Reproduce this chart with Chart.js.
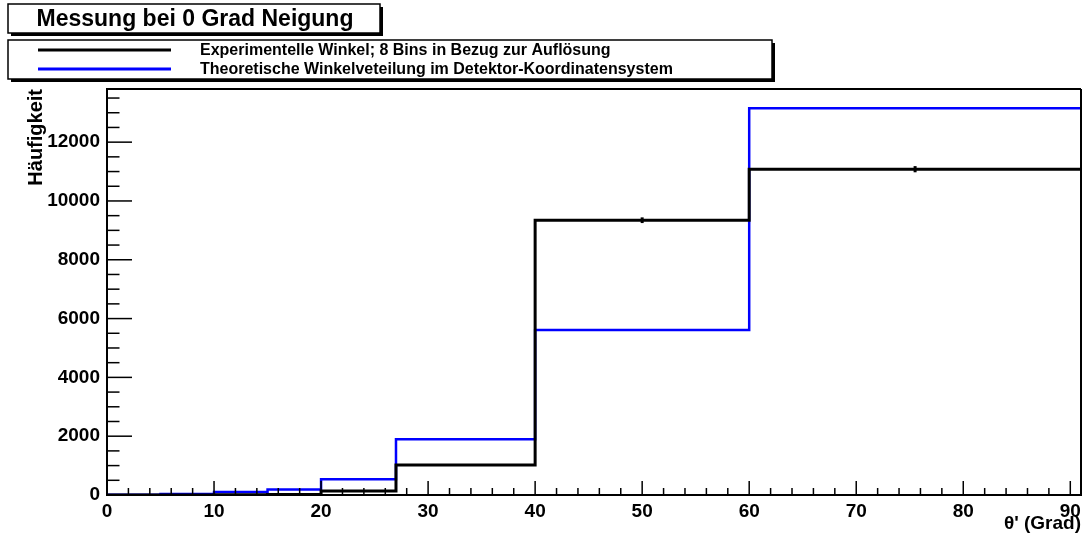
<!DOCTYPE html>
<html>
<head>
<meta charset="utf-8">
<title>Messung bei 0 Grad Neigung</title>
<script src="https://cdn.jsdelivr.net/npm/chart.js@4/dist/chart.umd.min.js"></script>
<style>
  html, body { margin: 0; padding: 0; background: #fff; }
  #wrap { position: relative; width: 1084px; height: 542px; }
</style>
</head>
<body>
<div id="wrap"><canvas id="canvas" width="1084" height="542"></canvas></div>
<script>
// Bin edges in degrees and counts per bin
const binEdges = [0, 5, 10, 15, 20, 27, 40, 60, 91];
const experimentell = [0, 2, 6, 18, 135, 1020, 9345, 11080];
const theoretisch = [5, 34, 100, 190, 535, 1893, 5608, 13150];

const xMajorTicks = [0, 10, 20, 30, 40, 50, 60, 70, 80, 90];
const yMajorTicks = [0, 2000, 4000, 6000, 8000, 10000, 12000];

const titleText = 'Messung bei 0 Grad Neigung';
const labelExp = 'Experimentelle Winkel; 8 Bins in Bezug zur Aufl\u00f6sung';
const labelTheo = 'Theoretische Winkelveteilung im Detektor-Koordinatensystem';

const FONT = '"Liberation Sans", Arial, Helvetica, sans-serif';
const yMax = 1.05 * Math.max(...theoretisch);

// histogram outline: one point per left edge, last bin repeated at the right edge
function steps(values) {
  return binEdges.map((x, i) => ({ x: x, y: values[Math.min(i, values.length - 1)] }));
}

function line(ctx, x1, y1, x2, y2) {
  ctx.beginPath();
  ctx.moveTo(x1, y1);
  ctx.lineTo(x2, y2);
  ctx.stroke();
}

function box(ctx, x, y, w, h) {
  ctx.fillStyle = '#000';
  ctx.fillRect(x + 3, y + 3, w, h);
  ctx.fillStyle = '#fff';
  ctx.fillRect(x, y, w, h);
  ctx.strokeStyle = '#000';
  ctx.lineWidth = 1.5;
  ctx.strokeRect(x, y, w, h);
}

// title box and legend box above the frame
const headerPlugin = {
  id: 'header',
  afterDraw(chart) {
    const ctx = chart.ctx;
    ctx.save();
    box(ctx, 8, 4, 372, 29);
    ctx.fillStyle = '#000';
    ctx.font = 'bold 23px ' + FONT;
    ctx.textAlign = 'center';
    ctx.textBaseline = 'middle';
    ctx.fillText(titleText, 195, 19.5);

    box(ctx, 8, 40, 764, 39);
    ctx.font = 'bold 16px ' + FONT;
    ctx.textAlign = 'left';
    chart.data.datasets.forEach((ds, i) => {
      const yy = 50 + i * 19;
      ctx.strokeStyle = ds.borderColor;
      ctx.lineWidth = 3;
      line(ctx, 38, yy, 171, yy);
      ctx.fillStyle = '#000';
      ctx.fillText(ds.label, 200, yy + 1);
    });
    ctx.restore();
  }
};

// inner tick marks, frame and the error bars of the measured histogram
const framePlugin = {
  id: 'frame',
  afterDatasetsDraw(chart) {
    const { ctx, chartArea: a, scales: { x, y } } = chart;
    ctx.save();
    ctx.strokeStyle = '#000';
    ctx.lineWidth = 1.5;
    x.ticks.forEach(t => {
      const px = x.getPixelForValue(t.value);
      const len = xMajorTicks.includes(t.value) ? 14 : 7;
      line(ctx, px, a.bottom, px, a.bottom - len);
    });
    y.ticks.forEach(t => {
      const py = y.getPixelForValue(t.value);
      const len = yMajorTicks.includes(t.value) ? 25 : 12.5;
      line(ctx, a.left, py, a.left + len, py);
    });
    ctx.lineWidth = 2;
    line(ctx, a.left, a.top, a.right, a.top);
    line(ctx, a.right, a.top, a.right, a.bottom);

    ctx.lineWidth = 3;
    experimentell.forEach((v, i) => {
      if (v <= 0) return;
      const cx = x.getPixelForValue((binEdges[i] + binEdges[i + 1]) / 2);
      const err = Math.sqrt(v);
      line(ctx, cx, y.getPixelForValue(v - err), cx, y.getPixelForValue(v + err));
    });
    ctx.restore();
  }
};

const data = {
  datasets: [
    {
      label: labelExp,
      data: steps(experimentell),
      borderColor: '#000000',
      borderWidth: 3,
      stepped: 'before',
      pointRadius: 0,
      fill: false
    },
    {
      label: labelTheo,
      data: steps(theoretisch),
      borderColor: '#0000ff',
      borderWidth: 2.5,
      stepped: 'before',
      pointRadius: 0,
      fill: false
    }
  ]
};

const tickFont = { family: FONT, size: 19, weight: 'bold' };

const config = {
  type: 'line',
  data: data,
  options: {
    responsive: false,
    animation: false,
    layout: { padding: { top: 89, right: 3, left: 0, bottom: 0 } },
    plugins: { legend: { display: false }, tooltip: { enabled: false } },
    scales: {
      x: {
        type: 'linear',
        min: 0,
        max: binEdges[binEdges.length - 1],
        afterFit(s) { s.height = 47; },
        afterBuildTicks(s) {
          const t = [];
          for (let v = 0; v <= 90; v += 2) t.push({ value: v });
          s.ticks = t;
        },
        grid: { display: false },
        border: { display: true, color: '#000', width: 2 },
        ticks: {
          autoSkip: false,
          maxRotation: 0,
          padding: -3,
          color: '#000',
          font: tickFont,
          callback: v => xMajorTicks.includes(v) ? String(v) : ''
        },
        title: {
          display: true,
          text: "\u03b8' (Grad)",
          align: 'end',
          color: '#000',
          font: tickFont,
          padding: { top: 0, bottom: 7 }
        }
      },
      y: {
        min: 0,
        max: yMax,
        afterFit(s) { s.width = 107; },
        afterBuildTicks(s) {
          const t = [];
          for (let v = 0; v <= 13500; v += 500) t.push({ value: v });
          s.ticks = t;
        },
        grid: { display: false },
        border: { display: true, color: '#000', width: 2 },
        ticks: {
          autoSkip: false,
          padding: -1,
          color: '#000',
          font: tickFont,
          callback: v => yMajorTicks.includes(v) ? String(v) : ''
        },
        title: {
          display: true,
          text: 'H\u00e4ufigkeit',
          align: 'end',
          color: '#000',
          font: { family: FONT, size: 20, weight: 'bold' },
          padding: { top: 24, bottom: 0 }
        }
      }
    }
  },
  plugins: [framePlugin, headerPlugin]
};

const canvas = document.getElementById('canvas');
const chart = new Chart(canvas, config);
</script>
</body>
</html>
